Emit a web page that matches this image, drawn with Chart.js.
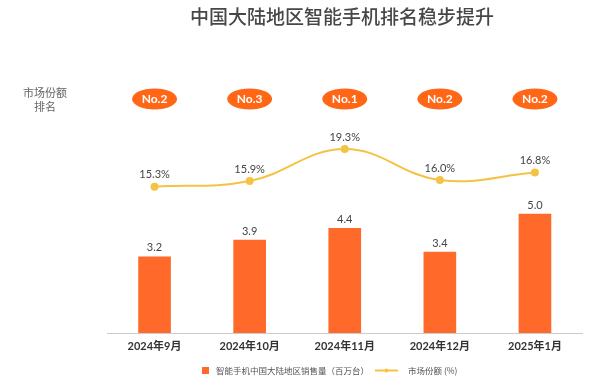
<!DOCTYPE html>
<html>
<head>
<meta charset="utf-8">
<script src="https://cdn.jsdelivr.net/npm/chart.js@4/dist/chart.umd.min.js"></script>
<style>
  html, body { margin: 0; padding: 0; background: #ffffff; }
  #wrap { position: relative; width: 600px; height: 391px; }
</style>
</head>
<body>
<div id="wrap"><canvas id="c" width="600" height="391"></canvas></div>
<script>
const titleText = '中国大陆地区智能手机排名稳步提升';
const sideLabel = ['市场份额', '排名'];
const categories = ['2024年9月', '2024年10月', '2024年11月', '2024年12月', '2025年1月'];
const salesMillions = [3.2, 3.9, 4.4, 3.4, 5.0];
const marketShare = [15.3, 15.9, 19.3, 16.0, 16.8];
const ranks = ['No.2', 'No.3', 'No.1', 'No.2', 'No.2'];
const barLabel = '智能手机中国大陆地区销售量（百万台）';
const lineLabel = '市场份额 (%)';

const ORANGE = '#FF6A2B';
const BADGE = '#FF6716';
const YELLOW = '#F5C343';
const FONT = 'Lato, "Noto Sans CJK SC", sans-serif';
const CJK = '"Noto Sans CJK SC", Lato, sans-serif';

const overlay = {
  id: 'overlay',
  afterDatasetsDraw(chart) {
    const ctx = chart.ctx;
    const x = chart.scales.x;
    ctx.save();
    // title
    ctx.fillStyle = '#474747';
    ctx.font = '500 19px ' + CJK;
    ctx.textAlign = 'center';
    ctx.textBaseline = 'middle';
    ctx.fillText(titleText, 342, 17);
    // side label
    ctx.fillStyle = '#666666';
    ctx.font = '11px ' + CJK;
    ctx.fillText(sideLabel[0], 45, 93);
    ctx.fillText(sideLabel[1], 45, 107);
    // badges
    ranks.forEach((r, i) => {
      const cx = x.getPixelForValue(i);
      const cy = 99;
      ctx.fillStyle = BADGE;
      ctx.beginPath();
      ctx.ellipse(cx, cy, 22.5, 10.5, 0, 0, Math.PI * 2);
      ctx.fill();
      ctx.fillStyle = '#ffffff';
      ctx.font = 'bold 12px ' + FONT;
      ctx.fillText(r, cx, cy + 0.5);
    });
    // bar value labels
    const barMeta = chart.getDatasetMeta(0);
    ctx.fillStyle = '#444444';
    ctx.font = '11px ' + FONT;
    barMeta.data.forEach((el, i) => {
      ctx.fillText(salesMillions[i].toFixed(1), el.x, el.y - 9);
    });
    // line value labels
    const lineMeta = chart.getDatasetMeta(1);
    lineMeta.data.forEach((el, i) => {
      ctx.fillText(marketShare[i].toFixed(1) + '%', el.x, el.y - 12);
    });
    // legend
    const ly = 370.5;
    ctx.fillStyle = ORANGE;
    ctx.fillRect(202, ly - 3.5, 7, 7);
    ctx.fillStyle = '#555555';
    ctx.textAlign = 'left';
    ctx.font = '8.5px ' + CJK;
    ctx.fillText(barLabel, 216, ly);
    ctx.strokeStyle = YELLOW;
    ctx.lineWidth = 2;
    ctx.beginPath();
    ctx.moveTo(375, ly);
    ctx.lineTo(398, ly);
    ctx.stroke();
    ctx.fillStyle = YELLOW;
    ctx.beginPath();
    ctx.arc(386.5, ly, 2, 0, Math.PI * 2);
    ctx.fill();
    ctx.fillStyle = '#555555';
    ctx.fillText(lineLabel, 408, ly);
    ctx.restore();
  }
};

new Chart(document.getElementById('c'), {
  data: {
    labels: categories,
    datasets: [
      {
        type: 'bar',
        label: barLabel,
        data: salesMillions,
        backgroundColor: ORANGE,
        barThickness: 32,
        yAxisID: 'y',
        order: 2
      },
      {
        type: 'line',
        label: lineLabel,
        data: marketShare,
        borderColor: YELLOW,
        backgroundColor: YELLOW,
        borderWidth: 2,
        pointRadius: 3,
        pointHoverRadius: 3,
        tension: 0.4,
        yAxisID: 'y2',
        order: 1
      }
    ]
  },
  options: {
    responsive: false,
    animation: false,
    devicePixelRatio: 1,
    layout: { padding: { top: 125, left: 107, right: 17.5, bottom: 30.8 } },
    plugins: {
      legend: { display: false },
      title: { display: false },
      tooltip: { enabled: false }
    },
    scales: {
      x: {
        offset: true,
        grid: { display: false, drawTicks: false },
        border: { display: true, color: '#cccccc', width: 1 },
        ticks: { color: '#333333', font: { family: FONT, size: 11, weight: 'bold' }, padding: 7 }
      },
      y: { display: false, min: 0, max: 8.74 },
      y2: { display: false, min: -0.23, max: 21.85 }
    }
  },
  plugins: [overlay]
});
</script>
</body>
</html>
